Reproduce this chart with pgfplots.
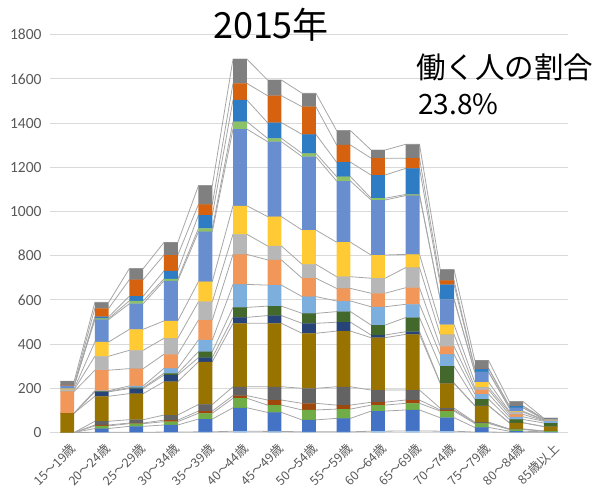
\documentclass[border=0pt]{standalone}
\usepackage{pgfplots}
\usepackage{pgfplotstable}
\pgfplotsset{compat=1.18}
\usepackage{fontspec}
\setmainfont{Carlito}
\newfontfamily\jp{Noto Sans CJK JP}

\definecolor{c0}{HTML}{9DC3E6}
\definecolor{c1}{HTML}{4472C4}
\definecolor{c2}{HTML}{70AD47}
\definecolor{c3}{HTML}{9E480E}
\definecolor{c4}{HTML}{636363}
\definecolor{c5}{HTML}{997300}
\definecolor{c6}{HTML}{264478}
\definecolor{c7}{HTML}{43682B}
\definecolor{c8}{HTML}{7CAFDD}
\definecolor{c9}{HTML}{F1975A}
\definecolor{c10}{HTML}{B7B7B7}
\definecolor{c11}{HTML}{FFCA33}
\definecolor{c12}{HTML}{698ED0}
\definecolor{c13}{HTML}{8CC168}
\definecolor{c14}{HTML}{2E7CC4}
\definecolor{c15}{HTML}{D6620F}
\definecolor{c16}{HTML}{808080}
\definecolor{gridc}{HTML}{D9D9D9}
\definecolor{linec}{HTML}{A6A6A6}
\definecolor{tickc}{HTML}{595959}

\pgfplotstableread{
x s0 s1 s2 s3 s4 s5 s6 s7 s8 s9 s10 s11 s12 s13 s14 s15 s16
0 0 0 0 0 0 88 0 0 0 98 8 4 14 0 0 4 16
1 1 17 12 4 17 113 20 2 3 93 63 65 101 5 8 38 27
2 1 27 12 3 15 118 23 4 8 78 83 95 116 13 21 75 50
3 2 32 15 7 23 151 30 8 22 64 72 79 181 9 36 72 57
4 3 58 26 10 30 193 19 27 53 90 83 91 226 15 60 48 85
5 6 106 43 12 40 287 27 45 104 136 91 129 347 34 98 75 110
6 5 86 33 23 60 287 35 43 95 114 63 133 339 15 71 122 71
7 3 54 45 30 68 249 45 45 76 83 63 155 332 15 86 125 61
8 3 61 42 18 83 252 40 48 48 57 53 156 277 20 65 78 65
9 6 91 27 13 55 237 12 45 83 61 68 105 249 8 105 76 37
10 7 95 30 15 45 252 12 64 60 75 91 60 266 5 118 46 63
11 6 61 30 5 8 112 2 76 53 37 53 45 114 2 65 19 49
12 2 21 18 3 3 74 1 29 23 19 11 24 45 1 15 2 35
13 1 5 8 1 1 28 0 15 12 11 10 4 15 1 7 1 20
14 1 2 3 0 1 20 0 16 8 3 3 1 3 0 1 0 3
}\data

% series-line table: each category twice, at the left and right edge of its bar
\pgfplotstablevertcat{\lines}{\data}
\pgfplotstablevertcat{\lines}{\data}
\pgfplotstablecreatecol[expr={\thisrow{x}-0.2+0.4*(\pgfplotstablerow>14)}]{xx}{\lines}
\pgfplotstablesort[sort key=xx, sort cmp=float <]{\sortedlines}{\lines}

\pgfplotsset{
  common/.style={
    width=518pt, height=397.8pt, scale only axis,
    xmin=-0.5, xmax=14.5, ymin=0, ymax=1800,
  },
}

\begin{document}
\begin{tikzpicture}
\useasboundingbox (-50pt,-60.5pt) rectangle (546pt,432.5pt);
\begin{axis}[common,
  stack plots=y,
  axis x line*=bottom, axis y line*=left,
  y axis line style={draw=none},
  x axis line style={draw=gridc, line width=0.9pt},
  major tick length=0pt,
  tick style={draw=none},
  ymajorgrids, grid style={draw=gridc, line width=0.9pt},
  ytick={0,200,...,1800},
  xtick={0,...,14},
  xticklabels={15～19歳,20～24歳,25～29歳,30～34歳,35～39歳,40～44歳,45～49歳,50～54歳,55～59歳,60～64歳,65～69歳,70～74歳,75～79歳,80～84歳,85歳以上},
  /pgf/number format/1000 sep={},
  /pgf/number format/assume math mode=true,
  yticklabel style={font=\fontsize{15.5}{15.5}\selectfont, text=tickc, xshift=-5pt},
  xticklabel style={font=\jp\fontsize{12.5}{12.5}\selectfont, text=tickc, rotate=45, anchor=east, inner sep=1pt, yshift=-14pt, xshift=-4pt},
]
\pgfplotsinvokeforeach{0,...,16}{
  \addplot[draw=linec, line width=0.8pt, no marks] table[x=xx, y=s#1] {\sortedlines};
}
\end{axis}
\begin{axis}[common,
  hide axis,
  ybar stacked, bar width=0.4,
]
\pgfplotsinvokeforeach{0,...,16}{
  \addplot[fill=c#1, draw=none] table[x=x, y=s#1] {\data};
}
\end{axis}
\node[font=\jp\fontsize{36}{40}\selectfont, anchor=center] at (221pt,407.5pt) {2015年};
\node[font=\jp\fontsize{29.5}{33}\selectfont, anchor=west, inner sep=0pt] at (366pt,365.5pt) {働く人の割合};
\node[font=\jp\fontsize{28}{32}\selectfont, anchor=west, inner sep=0pt] at (368pt,328.5pt) {23.8\%};
\end{tikzpicture}
\end{document}
